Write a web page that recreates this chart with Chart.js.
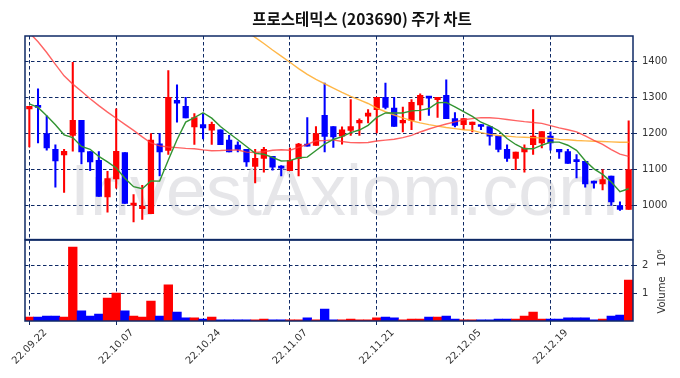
<!DOCTYPE html>
<html><head><meta charset="utf-8">
<script src="https://cdn.jsdelivr.net/npm/chart.js@4.4.0/dist/chart.umd.min.js"></script>
<style>html,body{margin:0;padding:0;background:#fff}</style>
</head><body>
<canvas id="c" width="680" height="378"></canvas>
<script>
const chartTitle = '프로스테믹스 (203690) 주가 차트';
const watermark = 'InvestAxiom.com';
const dates = ['22.09.22','22.09.23','22.09.26','22.09.27','22.09.28','22.09.29','22.09.30','22.10.04','22.10.05','22.10.06',
'22.10.07','22.10.11','22.10.12','22.10.13','22.10.14','22.10.17','22.10.18','22.10.19','22.10.20','22.10.21',
'22.10.24','22.10.25','22.10.26','22.10.27','22.10.28','22.10.31','22.11.01','22.11.02','22.11.03','22.11.04',
'22.11.07','22.11.08','22.11.09','22.11.10','22.11.11','22.11.14','22.11.15','22.11.16','22.11.17','22.11.18',
'22.11.21','22.11.22','22.11.23','22.11.24','22.11.25','22.11.28','22.11.29','22.11.30','22.12.01','22.12.02',
'22.12.05','22.12.06','22.12.07','22.12.08','22.12.09','22.12.12','22.12.13','22.12.14','22.12.15','22.12.16',
'22.12.19','22.12.20','22.12.21','22.12.22','22.12.23','22.12.26','22.12.27','22.12.28','22.12.29','23.01.02'];
const opens = [1268,1275,1199,1155,1140,1194,1236,1149,1125,1023,1073,1146,1000,990,976,1171,1152,1292,1275,1218,
1224,1209,1210,1181,1167,1155,1108,1130,1136,1106,1096,1129,1170,1166,1250,1219,1192,1208,1229,1248,
1266,1300,1270,1229,1236,1279,1300,1294,1306,1241,1224,1224,1222,1219,1192,1155,1130,1148,1168,1173,
1192,1155,1149,1124,1122,1063,1059,1081,999,988];
const highs = [1275,1324,1249,1168,1155,1398,1236,1149,1149,1094,1268,1146,1029,1055,1199,1199,1375,1335,1300,1255,
1255,1231,1210,1194,1176,1155,1155,1161,1136,1110,1159,1172,1244,1219,1340,1219,1218,1294,1240,1266,
1300,1340,1300,1273,1294,1310,1300,1300,1349,1258,1241,1231,1224,1219,1192,1168,1148,1168,1266,1205,
1204,1155,1155,1141,1122,1067,1099,1081,1009,1235];
const lows = [1162,1173,1153,1050,1035,1150,1115,1096,1024,980,1047,1005,953,960,976,1081,1141,1231,1243,1169,
1184,1169,1168,1148,1148,1108,1062,1092,1097,1081,1096,1081,1164,1166,1148,1161,1170,1194,1194,1229,
1201,1268,1219,1204,1210,1236,1250,1244,1241,1218,1210,1204,1210,1167,1148,1122,1099,1092,1141,1159,
1153,1130,1116,1076,1050,1047,1042,999,985,988];
const closes = [1275,1272,1159,1123,1150,1236,1148,1120,1024,1074,1150,1005,1003,997,1181,1148,1300,1284,1243,1244,
1215,1225,1168,1148,1155,1120,1130,1155,1106,1103,1125,1170,1164,1199,1191,1190,1210,1219,1236,1256,
1300,1272,1219,1236,1286,1306,1298,1300,1241,1222,1241,1231,1219,1192,1155,1130,1148,1159,1192,1205,
1173,1148,1116,1121,1059,1061,1071,1009,988,1099];
const ma5 = [1282,1272,1249,1224,1195.8,1188,1163.2,1155.4,1135.6,1120.4,1103.2,1074.6,1051.2,1045.8,1067.2,1066.8,1125.8,1182,1231.2,1243.8,
1257.2,1242.2,1219,1200,1182.2,1163.2,1144.2,1141.6,1133.2,1122.8,1123.8,1131.8,1133.6,1152.2,1169.8,1182.8,1190.8,1201.8,1209.2,1222.2,
1244.2,1256.6,1256.6,1256.6,1262.6,1263.8,1269,1285.2,1286.2,1273.4,1260.4,1247,1230.8,1221,1207.6,1185.4,1168.8,1156.8,1156.8,1166.8,
1175.4,1175.4,1166.8,1152.6,1123.4,1101,1085.6,1064.2,1037.6,1045.6];
const ma20 = [1480,1455,1425,1392,1360,1337,1317,1296,1277,1259,1242,1225,1208,1190,1173,1165,1162,1160,1158,1156.8,
1153.8,1151.5,1151.9,1153.2,1153.4,1147.6,1146.7,1148.5,1152.6,1154,1152.8,1161,1169,1179.2,1179.7,1181.8,1177.3,1174,1173.7,1174.3,
1178.5,1180.9,1183.4,1187.8,1194.4,1203.7,1212,1219.3,1226,1232,1237.8,1240.9,1243.6,1243.3,1241.5,1238.5,1235.4,1232.4,1230.2,1227.6,
1221.3,1215.1,1209.9,1204.2,1192.8,1180.6,1169.2,1154.7,1142,1135.9];
const ma60 = [null,null,null,null,null,null,null,null,null,null,null,null,null,null,null,null,null,null,null,null,
null,null,null,null,null,1485,1467,1450,1432,1415,1398,1380,1364,1350,1338,1326,1314,1303,1293,1283,
1270,1260,1251,1243,1235,1229,1224,1220,1216,1213,1210,1208,1202,1197,1194,1192,1190,1189,1188,1187,
1186,1183,1182,1180,1179,1178,1177,1176,1175,1175];
const volumes = [140000,140000,180000,180000,140000,2640000,360000,180000,250000,820000,1000000,360000,180000,140000,710000,180000,1290000,320000,110000,110000,
70000,140000,40000,40000,40000,40000,40000,70000,40000,40000,40000,40000,110000,40000,430000,40000,40000,70000,40000,40000,
110000,140000,110000,40000,70000,70000,140000,140000,180000,70000,40000,40000,40000,40000,70000,70000,70000,180000,320000,70000,
70000,70000,110000,110000,110000,40000,70000,180000,210000,1460000];
const priceTicks = [1000,1100,1200,1300,1400];
const volumeTicks = [1000000,2000000];

const UP = '#ff0000', DOWN = '#0000ff', NAVY = '#0f2a66';
const candleColors = closes.map((c, i) => c >= opens[i] ? UP : DOWN);

const decor = {
  id: 'decor',
  beforeDatasetsDraw(chart) {
    const ctx = chart.ctx, y = chart.scales.y, a = chart.chartArea;
    ctx.save();
    ctx.beginPath(); ctx.rect(a.left, y.top, a.right - a.left, y.bottom - y.top); ctx.clip();
    ctx.font = '72px "Liberation Sans", Arial, sans-serif';
    ctx.fillStyle = 'rgba(185,185,195,0.36)';
    ctx.textAlign = 'left'; ctx.textBaseline = 'alphabetic';
    ctx.fillText(watermark, 70, 215);
    ctx.restore();
  },
  afterDraw(chart) {
    const ctx = chart.ctx, a = chart.chartArea, y = chart.scales.y, yv = chart.scales.yv;
    ctx.save();
    ctx.strokeStyle = NAVY; ctx.lineWidth = 1.5; ctx.setLineDash([]);
    ctx.strokeRect(a.left, y.top, a.right - a.left, y.bottom - y.top);
    ctx.strokeRect(a.left, yv.top + 0.5, a.right - a.left, yv.bottom - yv.top - 0.5);
    ctx.fillStyle = '#111';
    ctx.font = 'bold 15.5px "Noto Sans CJK KR", sans-serif';
    ctx.textAlign = 'center'; ctx.textBaseline = 'middle';
    ctx.fillText(chartTitle, 362, 19);
    ctx.fillStyle = '#333';
    ctx.font = '10px "DejaVu Sans", sans-serif';
    ctx.translate(662, 0);
    ctx.rotate(-Math.PI / 2);
    ctx.fillText('Volume', -295, 0);
    ctx.font = '10.5px "DejaVu Sans", sans-serif';
    ctx.fillText('10⁶', -258, 0);
    ctx.restore();
  }
};

const gridCommon = { color: NAVY, lineWidth: 1, tickLength: 4, tickColor: NAVY, tickWidth: 1, tickBorderDash: [] };
const borderCommon = { display: false, dash: [3.5, 2.5] };
const tickFont = { family: '"DejaVu Sans", sans-serif', size: 10 };

new Chart(document.getElementById('c'), {
  data: {
    labels: dates,
    datasets: [
      { type: 'line', label: 'MA5', data: ma5, borderColor: '#329432', borderWidth: 1.4, pointRadius: 0, yAxisID: 'y', order: 0 },
      { type: 'line', label: 'MA20', data: ma20, borderColor: 'rgba(255,60,60,0.8)', borderWidth: 1.4, pointRadius: 0, yAxisID: 'y', order: 0 },
      { type: 'line', label: 'MA60', data: ma60, borderColor: 'rgba(255,170,40,0.85)', borderWidth: 1.4, pointRadius: 0, yAxisID: 'y', order: 0 },
      { type: 'bar', label: 'body', data: opens.map((o, i) => [o, closes[i]]), backgroundColor: candleColors,
        barThickness: 5.6, minBarLength: 2, grouped: false, yAxisID: 'y', order: 1 },
      { type: 'bar', label: 'wick', data: lows.map((l, i) => [l, highs[i]]), backgroundColor: candleColors,
        barThickness: 1.4, grouped: false, yAxisID: 'y', order: 2 },
      { type: 'bar', label: 'volume', data: volumes, backgroundColor: candleColors,
        barPercentage: 1, categoryPercentage: 1, grouped: false, yAxisID: 'yv', order: 3 }
    ]
  },
  options: {
    responsive: false, animation: false, devicePixelRatio: 1,
    layout: { padding: { left: 25, top: 36, right: 0, bottom: 0 } },
    plugins: { legend: { display: false }, tooltip: { enabled: false }, title: { display: false } },
    scales: {
      x: {
        type: 'category', offset: true,
        grid: Object.assign({}, gridCommon, { offset: false }),
        border: borderCommon,
        ticks: { autoSkip: false, maxRotation: 45, minRotation: 45, labelOffset: 16, padding: 2, color: '#333', font: tickFont },
        afterBuildTicks: s => { s.ticks = s.ticks.filter(t => t.value % 10 === 0); },
        afterFit: s => { s.height = 57; s.paddingLeft = 0; s.paddingRight = 0; }
      },
      y: {
        position: 'right', stack: 'panels', stackWeight: 2.5, min: 904, max: 1471,
        grid: gridCommon, border: borderCommon,
        ticks: { color: '#333', font: tickFont, padding: 5, callback: v => String(v) },
        afterBuildTicks: s => { s.ticks = priceTicks.map(v => ({ value: v })); },
        afterFit: s => { s.width = 47; s.paddingTop = 0; s.paddingBottom = 0; }
      },
      yv: {
        position: 'right', stack: 'panels', stackWeight: 1, min: 0, max: 2910000,
        grid: gridCommon, border: borderCommon,
        ticks: { color: '#333', font: tickFont, padding: 5, callback: v => String(v / 1000000) },
        afterBuildTicks: s => { s.ticks = volumeTicks.map(v => ({ value: v })); },
        afterFit: s => { s.width = 47; s.paddingTop = 0; s.paddingBottom = 0; }
      }
    }
  },
  plugins: [decor]
});
</script>
</body></html>
